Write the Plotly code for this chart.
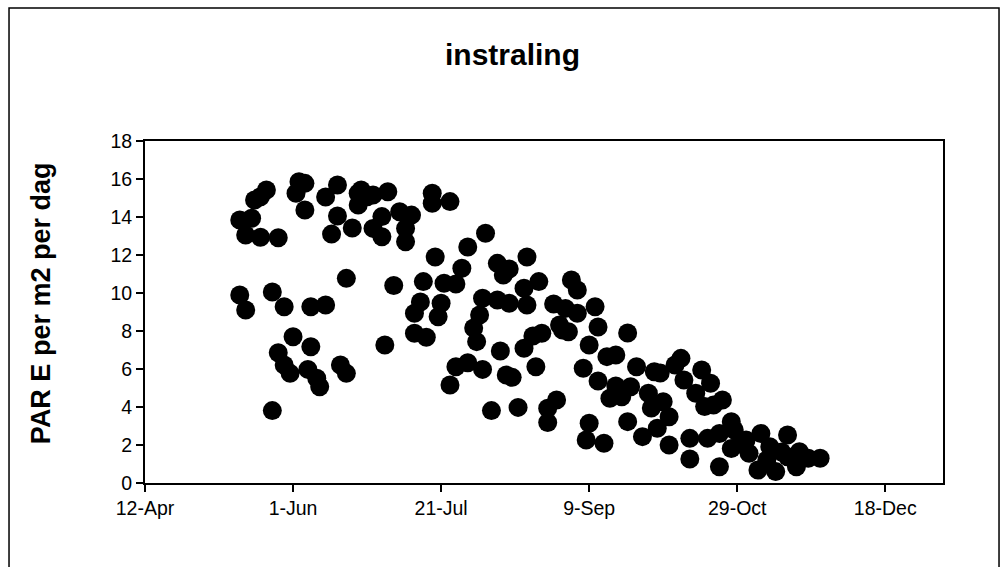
import pandas as pd
import plotly.graph_objects as go

# day of year (2007) and PAR values
doy = [134, 134, 136, 136, 138, 139, 141, 141, 143, 145, 145, 147, 147, 149, 149, 151, 152, 153, 154, 156,
       156, 157, 158, 158, 160, 161, 163, 163, 165, 167, 167, 168, 170, 170, 172, 174, 174, 175, 177, 179,
       179, 182, 182, 183, 184, 186, 188, 190, 190, 192, 193, 193, 195, 196, 197, 199, 199, 200, 201, 202,
       203, 205, 205, 207, 207, 209, 211, 211, 213, 214, 215, 216, 216, 217, 219, 221, 221, 222, 223, 224,
       225, 225, 226, 228, 230, 230, 231, 231, 234, 233, 235, 236, 238, 238, 240, 241, 242, 243, 245, 244,
       246, 248, 248, 250, 251, 252, 252, 254, 255, 255, 257, 258, 259, 261, 261, 263, 265, 265, 266, 268,
       270, 272, 273, 274, 275, 276, 277, 279, 279, 281, 283, 284, 286, 286, 288, 290, 291, 292, 293, 294,
       296, 296, 297, 300, 301, 300, 305, 306, 309, 310, 313, 315, 319, 319, 322, 323, 326, 330, 303, 312,
       317]
par = [13.84, 9.89, 9.11, 13.05, 13.93, 14.89, 12.93, 15.07, 15.42, 10.05, 3.81, 6.86, 12.91, 9.28, 6.21, 5.77, 7.70, 15.25, 15.86, 15.77,
       14.37, 5.98, 7.17, 9.28, 5.51, 5.07, 15.05, 9.37, 13.10, 15.68, 14.05, 6.21, 10.77, 5.77, 13.42, 15.25, 14.63, 15.42, 15.07, 15.16,
       13.40, 12.96, 14.02, 7.26, 15.33, 10.39, 14.28, 13.40, 12.70, 14.10, 7.88, 8.93, 9.53, 10.60, 7.67, 15.25, 14.72, 11.89, 8.75, 9.46,
       10.51, 14.81, 5.16, 10.47, 6.12, 11.30, 12.42, 6.33, 8.16, 7.44, 8.84, 5.98, 9.72, 13.14, 3.81, 9.63, 11.56, 6.95, 10.95, 5.68,
       11.26, 9.46, 5.56, 3.98, 10.25, 7.09, 9.37, 11.89, 6.12, 7.74, 10.60, 7.88, 3.18, 3.93, 9.42, 4.37, 8.32, 8.05, 7.96, 9.19,
       10.68, 10.16, 8.93, 6.04, 2.26, 7.26, 3.14, 9.28, 5.37, 8.21, 2.09, 6.65, 4.46, 6.74, 5.11, 4.54, 7.89, 3.23, 5.07, 6.12,
       2.44, 4.72, 3.95, 5.86, 2.88, 5.79, 4.28, 2.00, 3.49, 6.21, 6.56, 5.42, 2.35, 1.26, 4.72, 5.95, 4.02, 2.35, 5.25, 4.10,
       0.86, 2.61, 4.37, 3.23, 2.79, 1.82, 2.26, 1.56, 0.68, 2.61, 1.91, 0.60, 2.53, 1.38, 0.86, 1.65, 1.30, 1.30, 2.05, 1.21,
       1.63]

tick_dates = ["2007-04-12", "2007-06-01", "2007-07-21", "2007-09-09", "2007-10-29", "2007-12-18"]
tick_labels = ["12-Apr", "1-Jun", "21-Jul", "9-Sep", "29-Oct", "18-Dec"]
y_ticks = [0, 2, 4, 6, 8, 10, 12, 14, 16, 18]

dates = pd.to_datetime("2007-01-01") + pd.to_timedelta([d - 1 for d in doy], unit="D")

fig = go.Figure(go.Scatter(
    x=dates, y=par, mode="markers",
    marker=dict(color="black", size=19, line=dict(width=0)),
    showlegend=False,
))

font = "Liberation Sans, Arial, sans-serif"
fig.update_layout(
    width=1008, height=567,
    margin=dict(l=145, r=65, t=141, b=84),
    paper_bgcolor="white", plot_bgcolor="white",
    font=dict(family=font, color="black", size=20),
    xaxis=dict(
        range=["2007-04-12", "2008-01-06 12:00"],
        tickvals=tick_dates, ticktext=tick_labels,
        showline=True, linecolor="black", linewidth=2, mirror=True,
        ticks="outside", ticklen=7, tickwidth=2, tickcolor="black",
        showgrid=False, zeroline=False,
        tickfont=dict(size=19.5),
    ),
    yaxis=dict(
        range=[0, 18], tickvals=y_ticks,
        showline=True, linecolor="black", linewidth=2, mirror=True,
        ticks="outside", ticklen=7, tickwidth=2, tickcolor="black",
        showgrid=False, zeroline=False,
        tickfont=dict(size=19.5),
    ),
    shapes=[dict(type="rect", xref="paper", yref="paper",
                 x0=-0.1704, x1=1.0702, y0=-0.28, y1=1.389,
                 line=dict(color="black", width=1.5), fillcolor="rgba(0,0,0,0)", layer="below")],
    annotations=[
        dict(text="<b>instraling</b>", xref="paper", yref="paper",
             x=0.46, y=1.2515, showarrow=False, font=dict(size=30),
             xanchor="center", yanchor="middle"),
        dict(text="<b>PAR E per m2 per dag</b>", xref="paper", yref="paper",
             x=-0.1303, y=0.526, showarrow=False, textangle=-90, font=dict(size=27),
             xanchor="center", yanchor="middle"),
    ],
)

fig.write_html("out.html")
